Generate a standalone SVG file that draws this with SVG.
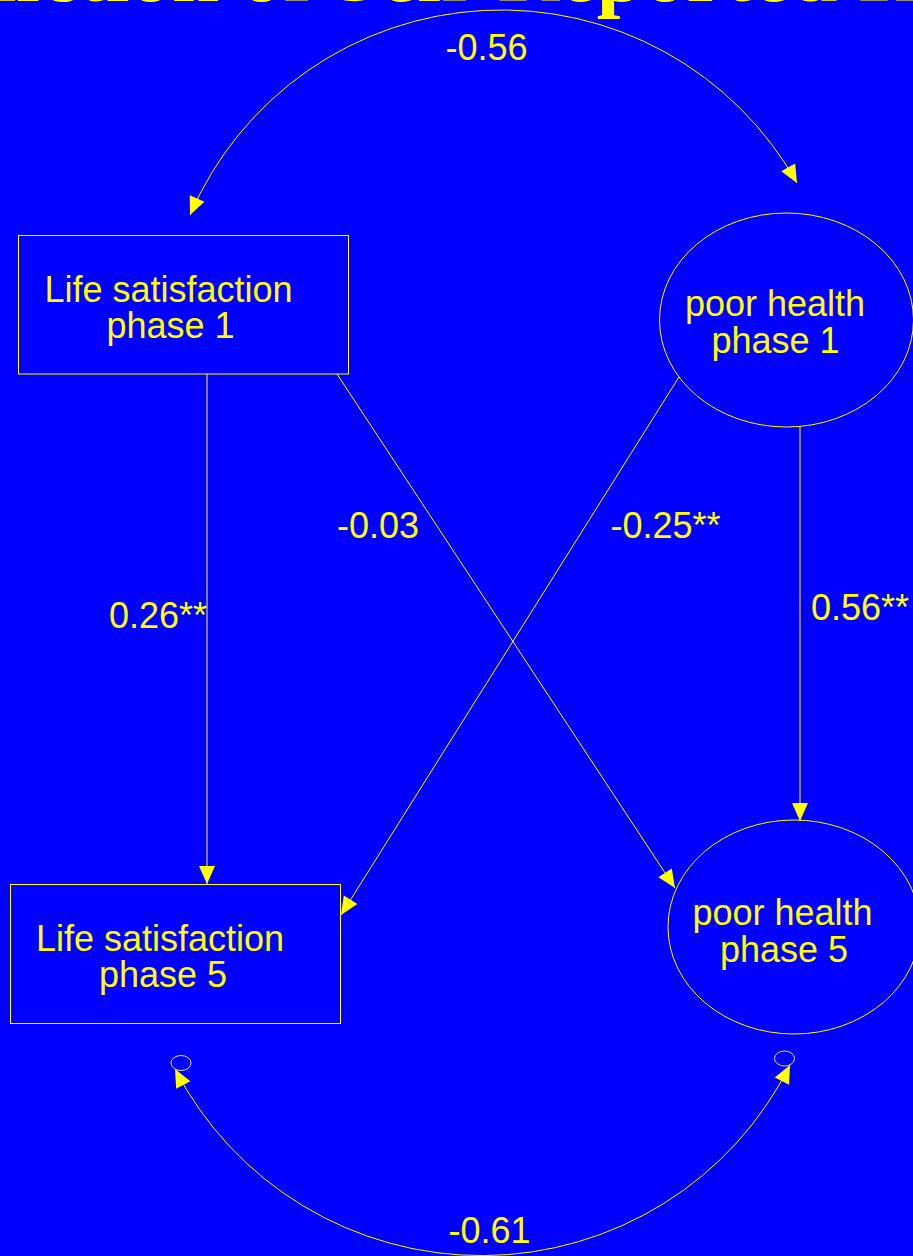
<svg xmlns="http://www.w3.org/2000/svg" width="913" height="1256" viewBox="0 0 913 1256">
  <style>
    .lbl { font-family: "Liberation Sans", Arial, sans-serif; font-size: 36px; fill: #ffff00; text-anchor: middle; }
    .title { font-family: "Liberation Serif", "Times New Roman", serif; font-size: 85px; font-weight: bold; fill: #ffff00; }
    .box { fill: none; stroke: #ffff00; stroke-width: 1; }
    .conn { fill: none; stroke: #ffff00; stroke-width: 1; }
    .err { fill: none; stroke: #e0e0ff; stroke-width: 1; }
  </style>
  <defs>
    <marker id="arr" markerUnits="userSpaceOnUse" markerWidth="18" markerHeight="16" refX="18" refY="8" orient="auto-start-reverse" overflow="visible">
      <path d="M0,0 L18,8 L0,16 Z" fill="#ffff00"/>
    </marker>
  </defs>
  <rect x="0" y="0" width="913" height="1256" fill="#0000ff"/>
  <text class="title" x="-157" y="1">Prediction of Self-Reported Health</text>

  <g id="connectors">
    <path class="conn" d="M190,215 A339,339 0 0 1 797,183" marker-start="url(#arr)" marker-end="url(#arr)"/>
    <line class="conn" x1="207" y1="374" x2="207" y2="884" marker-end="url(#arr)"/>
    <line class="conn" x1="337" y1="374" x2="675" y2="888" marker-end="url(#arr)"/>
    <line class="conn" x1="679" y1="377" x2="341" y2="915" marker-end="url(#arr)"/>
    <line class="conn" x1="800" y1="427" x2="800" y2="821" marker-end="url(#arr)"/>
    <path class="conn" d="M175,1069 A345,345 0 0 0 790,1065" marker-start="url(#arr)" marker-end="url(#arr)"/>
    <text class="lbl" x="486.5" y="60">-0.56</text>
    <text class="lbl" x="378" y="538">-0.03</text>
    <text class="lbl" x="665.5" y="538">-0.25**</text>
    <text class="lbl" x="158" y="628">0.26**</text>
    <text class="lbl" x="860" y="620">0.56**</text>
    <text class="lbl" x="489.5" y="1243">-0.61</text>
  </g>

  <g id="ls1">
    <rect class="box" x="18.5" y="235.5" width="330" height="138.5"/>
    <text class="lbl" x="168.5" y="302">Life satisfaction</text>
    <text class="lbl" x="170.5" y="338">phase 1</text>
  </g>
  <g id="ph1">
    <ellipse class="box" cx="786.5" cy="320" rx="127" ry="107"/>
    <text class="lbl" x="775" y="316">poor health</text>
    <text class="lbl" x="775.5" y="353">phase 1</text>
  </g>
  <g id="ls5">
    <rect class="box" x="10.5" y="884.5" width="330" height="139"/>
    <text class="lbl" x="160" y="951">Life satisfaction</text>
    <text class="lbl" x="163" y="987">phase 5</text>
  </g>
  <g id="ph5">
    <ellipse class="box" cx="794" cy="927" rx="126" ry="107"/>
    <text class="lbl" x="782.5" y="925">poor health</text>
    <text class="lbl" x="784" y="962">phase 5</text>
  </g>
  <g id="e1">
    <ellipse class="err" cx="181" cy="1063" rx="10" ry="7.5"/>
  </g>
  <g id="e2">
    <ellipse class="err" cx="784.5" cy="1058.5" rx="10" ry="7.5"/>
  </g>
</svg>
